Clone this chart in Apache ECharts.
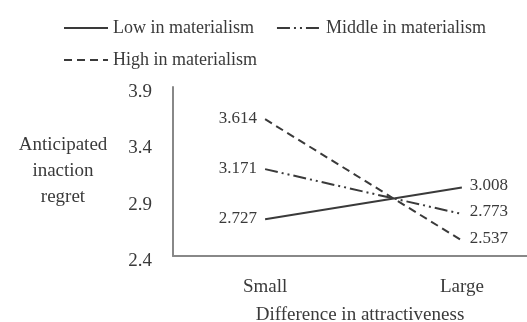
<!DOCTYPE html>
<html>
<head>
<meta charset="utf-8">
<script src="https://cdn.jsdelivr.net/npm/echarts@6/dist/echarts.min.js"></script>
<style>
  html, body { margin: 0; padding: 0; background: #fff; }
  #chart { width: 527px; height: 322px; }
</style>
</head>
<body>
<div id="chart"></div>
<script>
// data
var categories = ['Small', 'Large'];
var seriesNames = ['Low in materialism', 'Middle in materialism', 'High in materialism'];
var lowValues = [2.727, 3.008];
var middleValues = [3.171, 2.773];
var highValues = [3.614, 2.537];
var yTicks = [2.4, 2.9, 3.4, 3.9];

var font = '"Liberation Serif", "Times New Roman", serif';
var ink = '#3a3a3a';

var lineTypes = ['solid', [13, 4, 2, 4, 2, 4], [8, 5]];
var allValues = [lowValues, middleValues, highValues];

var myChart = echarts.init(document.getElementById('chart'));

var temp_series = [];
for (var i = 0; i < allValues.length; i++) {
    var pts = [];
    for (var j = 0; j < categories.length; j++) {
        pts.push({
            value: [j, allValues[i][j]],
            label: {
                position: j === 0 ? 'left' : 'right',
                offset: j === 0 ? [0, -1] : [0, -2]
            }
        });
    }
    temp_series.push({
        name: seriesNames[i],
        type: 'line',
        symbol: 'circle',
        symbolSize: 0,
        data: pts,
        lineStyle: { color: ink, width: 2, type: lineTypes[i] },
        itemStyle: { color: ink },
        label: {
            show: true,
            fontFamily: font,
            fontSize: 17,
            color: ink,
            distance: 8,
            formatter: function (p) { return p.value[1].toFixed(3); }
        }
    });
}

var legendText = { fontFamily: font, fontSize: 18, color: ink };

var option = {
    animation: false,
    backgroundColor: '#fff',
    legend: [
        {
            data: [seriesNames[0], seriesNames[1]],
            left: 58, top: 14,
            itemWidth: 44, itemHeight: 14, itemGap: 22,
            itemStyle: { opacity: 0 },
            textStyle: legendText
        },
        {
            data: [seriesNames[2]],
            left: 58, top: 46,
            itemWidth: 44, itemHeight: 14,
            itemStyle: { opacity: 0 },
            textStyle: legendText
        }
    ],
    grid: { left: 173, right: 0, top: 87, height: 169, outerBoundsMode: 'none' },
    xAxis: {
        type: 'value',
        min: -0.468,
        max: 1.331,
        axisLine: { lineStyle: { color: '#888', width: 2 } },
        axisTick: { show: false },
        splitLine: { show: false },
        axisLabel: {
            customValues: [0, 1],
            margin: 22,
            fontFamily: font,
            fontSize: 19,
            color: ink,
            formatter: function (v) { return categories[Math.round(v)]; }
        },
        name: 'Difference in attractiveness',
        nameLocation: 'middle',
        nameGap: 50,
        nameTextStyle: { fontFamily: font, fontSize: 19, color: ink, padding: [0, 0, 0, 20] }
    },
    yAxis: {
        type: 'value',
        min: yTicks[0],
        max: yTicks[yTicks.length - 1],
        interval: 0.5,
        axisLine: { show: true, onZero: false, lineStyle: { color: '#888', width: 2 } },
        axisTick: { show: false },
        splitLine: { show: false },
        axisLabel: {
            margin: 21,
            fontFamily: font,
            fontSize: 19,
            color: ink,
            verticalAlign: 'top',
            lineHeight: 10,
            formatter: function (v) { return v.toFixed(1); }
        },
        name: 'Anticipated\ninaction\nregret',
        nameLocation: 'middle',
        nameRotate: 0,
        nameGap: 110,
        nameTextStyle: { fontFamily: font, fontSize: 19, color: ink, align: 'center', lineHeight: 26, padding: [4, 0, 0, 0] }
    },
    series: temp_series
};

myChart.setOption(option);
</script>
</body>
</html>
